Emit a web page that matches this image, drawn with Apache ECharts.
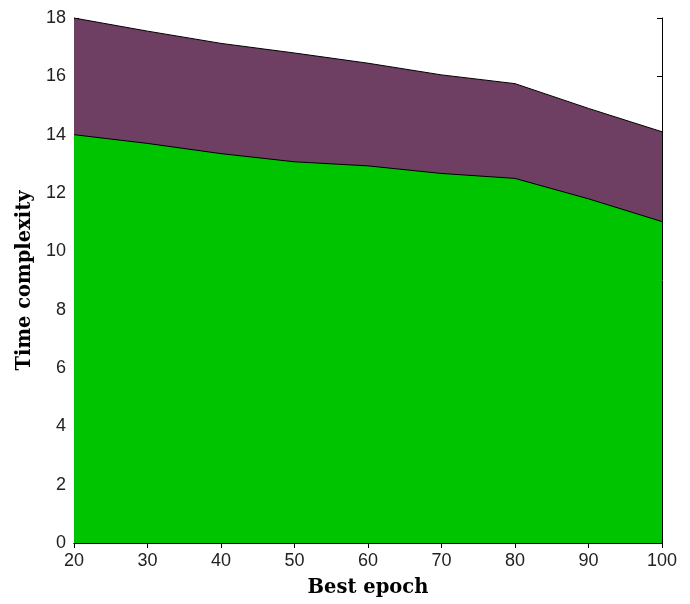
<!DOCTYPE html>
<html>
<head>
<meta charset="utf-8">
<script src="https://cdn.jsdelivr.net/npm/echarts@6/dist/echarts.min.js"></script>
<style>html,body{margin:0;padding:0;background:#fff;}#c{width:690px;height:604px;}</style>
</head>
<body>
<div id="c"></div>
<script>
const epochs = [20, 30, 40, 50, 60, 70, 80, 90, 100];
const totalTime = [18, 17.55, 17.13, 16.8, 16.45, 16.05, 15.75, 14.9, 14.1];
const lowerTime = [14, 13.7, 13.35, 13.07, 12.93, 12.67, 12.5, 11.8, 11.02];
const yTicks = [0, 2, 4, 6, 8, 10, 12, 14, 16, 18];

const chart = echarts.init(document.getElementById('c'), null, {renderer: 'canvas'});
const tickFont = {fontFamily: 'Liberation Sans', fontSize: 18, color: '#222'};
const nameFont = {fontFamily: 'DejaVu Serif', fontWeight: 'bold', fontSize: 19.5, color: '#000'};
const axisLine = {show: true, lineStyle: {color: '#000', width: 1}};
chart.setOption({
  animation: false,
  grid: {left: 74, right: 28, top: 18, bottom: 61},
  xAxis: [{
    type: 'value', min: 20, max: 100, interval: 10,
    name: 'Best epoch', nameLocation: 'middle', nameGap: 35, nameTextStyle: nameFont,
    axisLine: axisLine, axisTick: {show: true, inside: true, length: 5, lineStyle: {color: '#000'}},
    axisLabel: Object.assign({margin: 9}, tickFont), splitLine: {show: false}
  }, {
    type: 'value', min: 20, max: 100, interval: 10, position: 'top',
    axisLine: axisLine, axisTick: {show: true, inside: true, length: 5, lineStyle: {color: '#000'}},
    axisLabel: {show: false}, splitLine: {show: false}
  }],
  yAxis: [{
    type: 'value', min: yTicks[0], max: yTicks[yTicks.length - 1], interval: 2,
    name: 'Time complexity', nameLocation: 'middle', nameGap: 37, nameTextStyle: nameFont,
    axisLine: axisLine, axisTick: {show: true, inside: true, length: 5, lineStyle: {color: '#000'}},
    axisLabel: Object.assign({margin: 8}, tickFont), splitLine: {show: false}
  }, {
    type: 'value', min: yTicks[0], max: yTicks[yTicks.length - 1], interval: 2, position: 'right',
    axisLine: axisLine, axisTick: {show: true, inside: true, length: 5, lineStyle: {color: '#000'}},
    axisLabel: {show: false}, splitLine: {show: false}
  }],
  series: [{
    type: 'line', data: epochs.map((e, i) => [e, totalTime[i]]),
    symbol: 'none', lineStyle: {color: '#000', width: 1},
    areaStyle: {color: '#6E3F62', opacity: 1}, z: 1
  }, {
    type: 'line', data: epochs.map((e, i) => [e, lowerTime[i]]),
    symbol: 'none', lineStyle: {color: '#000', width: 1},
    areaStyle: {color: '#00C400', opacity: 1}, z: 2
  }]
});
</script>
</body>
</html>
